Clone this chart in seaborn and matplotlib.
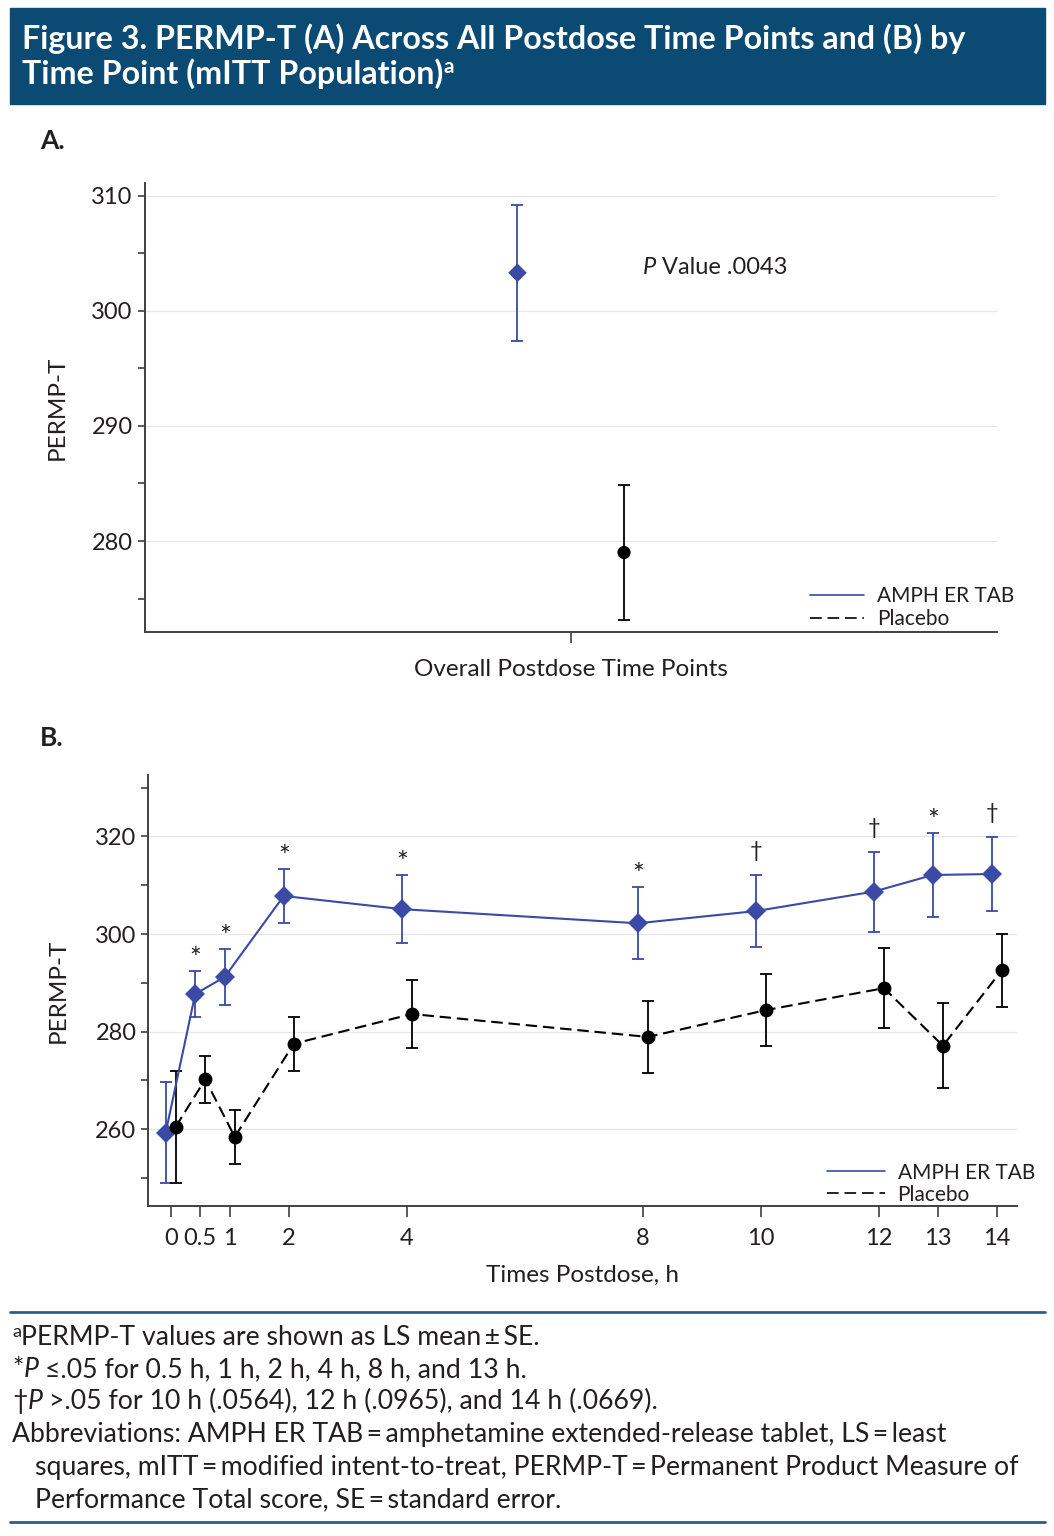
import numpy as np
import pandas as pd
import seaborn as sns
import matplotlib.pyplot as plt
from matplotlib.lines import Line2D
from matplotlib.patches import Rectangle

# ---- data ----
groups = ['AMPH ER TAB', 'Placebo']
overall_mean = [303.3, 279.0]
overall_se = [5.9, 5.85]

hours = [0, 0.5, 1, 2, 4, 8, 10, 12, 13, 14]
hour_labels = ['0', '0.5', '1', '2', '4', '8', '10', '12', '13', '14']
amph_mean = [259.3, 287.7, 291.2, 307.8, 305.1, 302.2, 304.7, 308.7, 312.1, 312.3]
amph_se = [10.3, 4.8, 5.7, 5.6, 6.9, 7.4, 7.3, 8.2, 8.7, 7.5]
plac_mean = [260.5, 270.2, 258.4, 277.5, 283.6, 278.9, 284.4, 288.9, 277.1, 292.6]
plac_se = [11.5, 4.75, 5.6, 5.5, 6.9, 7.3, 7.35, 8.2, 8.75, 7.5]
sig_marks = ['', '*', '*', '*', '*', '*', '\u2020', '\u2020', '*', '\u2020']

# ---- style ----
sns.set_style('ticks')
plt.rcParams['font.family'] = ['Lato', 'DejaVu Sans']
ink = '#231F20'
navy = '#0A4A73'
blue = '#3A4AA5'
spine_c = '#404040'
colors = {'AMPH ER TAB': blue, 'Placebo': 'black'}
markers = {'AMPH ER TAB': 'D', 'Placebo': 'o'}
th = '\u2009'

W, H = 1054, 1536
fig = plt.figure(figsize=(W / 100, H / 100), dpi=100)
fig.patch.set_facecolor('white')
renderer = fig.canvas.get_renderer()


def fx(px):
    return px / W


def fy(py):
    return 1 - py / H


def rich(x, y, parts, size=17, color=ink, weight='normal'):
    # draws text pieces one after another on a common baseline (pixel coords)
    x = fx(x)
    for s, opt in parts:
        opt = dict(opt)
        dy = opt.pop('dy', 0)
        fs = opt.pop('size', size)
        t = fig.text(x, fy(y - dy), s, fontsize=fs, color=color, weight=weight,
                     va='baseline', ha='left', **opt)
        bb = t.get_window_extent(renderer)
        x = bb.x1 / fig.bbox.width


def style_axes(ax):
    sns.despine(ax=ax)
    for sp in ['left', 'bottom']:
        ax.spines[sp].set_color(spine_c)
        ax.spines[sp].set_linewidth(1.4)
    ax.tick_params(which='both', direction='out', color=spine_c, width=1.2,
                   labelsize=17, labelcolor=ink)
    ax.tick_params(axis='y', which='both', length=5)
    ax.tick_params(axis='x', which='both', length=8, pad=8)
    ax.grid(axis='y', which='major', color='#E6E6EE', lw=0.9)
    ax.set_axisbelow(True)


# ---- header band ----
fig.patches.append(Rectangle((fx(10), fy(104)), fx(1035), 96 / H,
                             transform=fig.transFigure, color=navy, zorder=0))
rich(22, 49, [('Figure 3. PERMP-T (A) Across All Postdose Time Points and (B) by', {})],
     size=23.2, color='white', weight='bold')
rich(22, 84, [('Time Point (mITT Population)', {}), ('a', {'size': 15, 'dy': 11})],
     size=23.2, color='white', weight='bold')

# ---- panel A ----
axA = fig.add_axes([fx(144.5), fy(632.3), fx(997) - fx(144.5), (632.3 - 183) / H])
style_axes(axA)
dodge_a = 0.125
dfa = pd.DataFrame({'group': groups,
                    'x': np.array([-1, 1]) * dodge_a,
                    'mean': overall_mean, 'se': overall_se})
for _, r in dfa.iterrows():
    axA.errorbar(r['x'], r['mean'], yerr=r['se'], fmt='none', ecolor=colors[r['group']],
                 elinewidth=1.3, capsize=4, capthick=1.3, zorder=2)
sns.scatterplot(data=dfa, x='x', y='mean', hue='group', style='group', palette=colors,
                markers=markers, s=90, linewidth=0, legend=False, ax=axA, zorder=4)
axA.set_xlim(-1, 1)
axA.set_ylim(272.07, 311.1)
axA.set_yticks([280, 290, 300, 310])
axA.set_yticks([275, 285, 295, 305], minor=True)
axA.set_xticks([0])
axA.set_xticklabels([''])
axA.set_xlabel('Overall Postdose Time Points', fontsize=17.5, color=ink)
axA.xaxis.set_label_coords(0.5, -0.06)
axA.set_ylabel('PERMP-T', fontsize=17.5, color=ink)
axA.yaxis.set_label_coords(-0.09, 0.5)

leg_handles = [Line2D([], [], color=blue, lw=1.2),
               Line2D([], [], color='black', lw=1.2, dashes=(7, 3.5))]
axA.legend(leg_handles, groups, loc='upper left', bbox_to_anchor=(0.781, 0.103),
           frameon=False, fontsize=15, handlelength=2.6, handletextpad=0.6,
           labelspacing=0.15, borderpad=0, borderaxespad=0, labelcolor=ink)

rich(643, 274, [('P', {'style': 'italic'}), (' Value .0043', {})], size=17)
rich(40, 149, [('A.', {})], size=19, weight='bold')

# ---- panel B ----
axB = fig.add_axes([fx(148.3), fy(1205.7), fx(1017) - fx(148.3), (1205.7 - 775) / H])
style_axes(axB)
dodge_b = 0.085
dfb = pd.DataFrame({
    'group': ['AMPH ER TAB'] * len(hours) + ['Placebo'] * len(hours),
    'hour': hours * 2,
    'mean': amph_mean + plac_mean,
    'se': amph_se + plac_se,
})
dfb['x'] = dfb['hour'] + np.where(dfb['group'] == 'AMPH ER TAB', -dodge_b, dodge_b)
for g, sub in dfb.groupby('group'):
    axB.errorbar(sub['x'], sub['mean'], yerr=sub['se'], fmt='none', ecolor=colors[g],
                 elinewidth=1.3, capsize=4, capthick=1.3, zorder=2)
sns.lineplot(data=dfb, x='x', y='mean', hue='group', style='group', palette=colors,
             markers=markers, dashes={'AMPH ER TAB': '', 'Placebo': (5.5, 2.8)},
             markersize=10, markeredgewidth=0, linewidth=1.5, estimator=None,
             sort=False, legend=False, ax=axB, zorder=4)

amph = dfb[dfb['group'] == 'AMPH ER TAB'].reset_index(drop=True)
for i, mark in enumerate(sig_marks):
    if not mark:
        continue
    off = 11 if mark == '*' else 24
    fs = 20 if mark == '*' else 16
    axB.annotate(mark, xy=(amph.loc[i, 'x'], amph.loc[i, 'mean'] + amph.loc[i, 'se']),
                 xytext=(0, off), textcoords='offset pixels', ha='center', va='center',
                 fontsize=fs, color=ink)

axB.set_xlim(-0.38, 14.34)
axB.set_ylim(244.3, 332.6)
axB.set_xticks(hours)
axB.set_xticklabels(hour_labels)
axB.set_yticks([260, 280, 300, 320])
axB.set_yticks([250, 270, 290, 310, 330], minor=True)
axB.set_xlabel('Times Postdose, h', fontsize=17.5, color=ink)
axB.xaxis.set_label_coords(0.5, -0.138)
axB.set_ylabel('PERMP-T', fontsize=17.5, color=ink)
axB.yaxis.set_label_coords(-0.092, 0.5)
axB.legend(leg_handles, groups, loc='upper left', bbox_to_anchor=(0.781, 0.1),
           frameon=False, fontsize=15, handlelength=2.8, handletextpad=0.6,
           labelspacing=0.1, borderpad=0, borderaxespad=0, labelcolor=ink)
rich(40, 746, [('B.', {})], size=19, weight='bold')

# ---- footnotes ----
rule_c = '#2B5F8A'
for yy in [1312, 1522]:
    fig.add_artist(Line2D([fx(10), fx(1045)], [fy(yy), fy(yy)], color=rule_c, lw=2,
                          transform=fig.transFigure))
fs_note = 19.2
rich(12, 1345, [('a', {'size': 13, 'dy': 8}),
                ('PERMP-T values are shown as LS mean' + th + '\u00b1' + th + 'SE.', {})], size=fs_note)
rich(12, 1377, [('*', {}), ('P', {'style': 'italic'}),
                (' \u2264.05 for 0.5 h, 1 h, 2 h, 4 h, 8 h, and 13 h.', {})], size=fs_note)
rich(12, 1409, [('\u2020', {}), ('P', {'style': 'italic'}),
                (' >.05 for 10 h (.0564), 12 h (.0965), and 14 h (.0669).', {})], size=fs_note)
eq = th + '=' + th
rich(12, 1442, [('Abbreviations: AMPH ER TAB' + eq + 'amphetamine extended-release tablet, LS' + eq + 'least', {})],
     size=fs_note)
rich(35, 1475, [('squares, mITT' + eq + 'modified intent-to-treat, PERMP-T' + eq + 'Permanent Product Measure of', {})],
     size=fs_note)
rich(35, 1507, [('Performance Total score, SE' + eq + 'standard error.', {})], size=fs_note)

fig.savefig('out.png', dpi=100, facecolor='white')
